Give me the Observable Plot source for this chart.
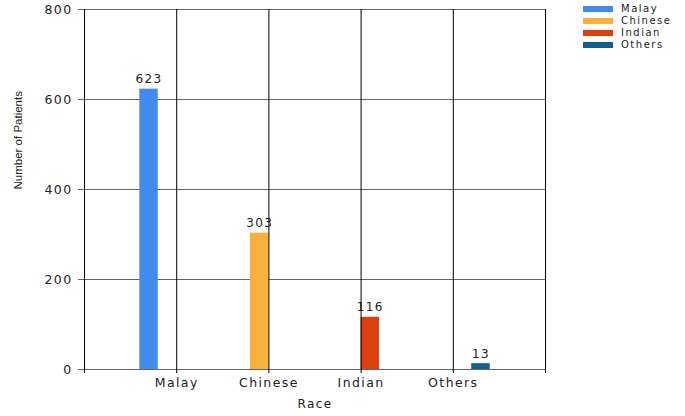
<!DOCTYPE html>
<html>
<head>
<meta charset="utf-8">
<script src="https://cdn.jsdelivr.net/npm/d3@7"></script>
<script src="https://cdn.jsdelivr.net/npm/@observablehq/plot@0.6"></script>
<style>
  html, body { margin: 0; padding: 0; background: #fff; }
  #wrap { position: relative; width: 685px; height: 416px; }
  #wrap svg text { letter-spacing: 1.4px; }
  #legend { position: absolute; left: 583px; top: 3px; font-family: "DejaVu Sans", sans-serif; font-size: 10px; color: #222; letter-spacing: 1.5px; }
  #legend .row { height: 12px; line-height: 12px; display: flex; align-items: center; white-space: nowrap; }
  #legend .sw { width: 30px; height: 6px; margin-right: 8px; flex: none; }
</style>
</head>
<body>
<div id="wrap"></div>
<script>
const categories = ["Malay", "Chinese", "Indian", "Others"];
const patients = [623, 303, 116, 13];
const colors = ["#428BEE", "#FAB03C", "#DC400C", "#125F8D"];
const yTicks = [0, 200, 400, 600, 800];
const xGridTicks = [0, 1, 2, 3, 4, 5];
const xTitle = "Race";
const yTitle = "Number of Patients";

const slotWidth = 0.2; // 4 series slots per category group
const rows = categories.map((c, i) => ({race: c, value: patients[i], pos: i + 1, slot: i}));
const x1 = d => d.pos + (d.slot - 2) * slotWidth;

const chart = Plot.plot({
  width: 685,
  height: 416,
  marginLeft: 84,
  marginRight: 140,
  marginTop: 9,
  marginBottom: 47,
  style: {fontFamily: "DejaVu Sans, sans-serif", fontSize: "12.5px", background: "#fff", overflow: "visible"},
  x: {domain: [0, 5], axis: null},
  y: {domain: [0, 800], axis: null},
  color: {domain: categories, range: colors},
  marks: [
    Plot.ruleY(yTicks, {stroke: "#666", strokeOpacity: 1}),
    Plot.axisY({ticks: yTicks, tickSize: 6, tickPadding: 6, stroke: "#666", strokeOpacity: 1, fill: "#222", label: null}),
    Plot.rectY(rows, {x1: x1, x2: d => x1(d) + slotWidth, y1: 0, y2: "value", fill: "race"}),
    Plot.text(rows, {x: d => x1(d) + slotWidth / 2, y: "value", text: d => String(d.value), dy: -6, lineAnchor: "bottom", fill: "#222", fontSize: 12}),
    Plot.ruleX(xGridTicks, {stroke: "#000", strokeOpacity: 1, insetBottom: -4}),
    Plot.axisX({ticks: [1, 2, 3, 4], tickFormat: d => categories[d - 1], tickSize: 0, tickPadding: 9, fill: "#222", label: null}),
    Plot.text([xTitle], {frameAnchor: "bottom", dy: 38, lineAnchor: "bottom", fill: "#222", fontSize: 12}),
    Plot.text([yTitle], {frameAnchor: "left", dx: -63, rotate: -90, lineAnchor: "bottom", fill: "#222", fontSize: 11.5, fontFamily: "Liberation Sans Narrow, Liberation Sans, sans-serif"})
  ]
});

d3.select(chart).selectAll("text")
  .filter(function () { return this.textContent === yTitle; })
  .style("letter-spacing", "0px");

const wrap = document.getElementById("wrap");
wrap.appendChild(chart);

const legend = document.createElement("div");
legend.id = "legend";
categories.forEach((c, i) => {
  const row = document.createElement("div");
  row.className = "row";
  const sw = document.createElement("span");
  sw.className = "sw";
  sw.style.background = colors[i];
  const t = document.createElement("span");
  t.textContent = c;
  row.appendChild(sw);
  row.appendChild(t);
  legend.appendChild(row);
});
wrap.appendChild(legend);
</script>
</body>
</html>
